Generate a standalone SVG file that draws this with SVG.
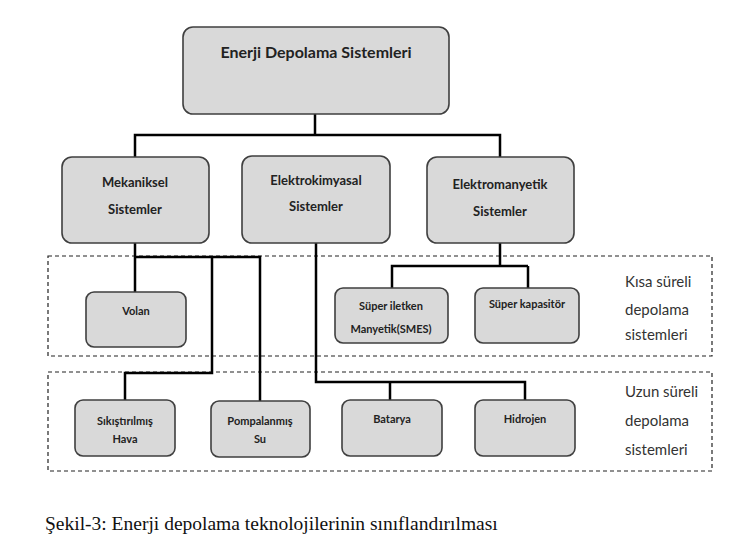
<svg xmlns="http://www.w3.org/2000/svg" width="750" height="558" viewBox="0 0 750 558">
<style>
.box{fill:#d9d9d9;stroke:#3f3f3f;stroke-width:1.6}
.lbl{font-family:Lato,"Liberation Sans",sans-serif;font-weight:bold;fill:#222;text-anchor:middle}
.side{font-family:Lato,"Liberation Sans",sans-serif;font-size:15px;fill:#333}
.con{fill:none;stroke:#000;stroke-width:2.5}
.dash{fill:none;stroke:#222;stroke-width:1.2;stroke-dasharray:4 3}
</style>
<rect width="750" height="558" fill="#fff"/>
<g id="zones">
<rect class="dash" x="48" y="256" width="664" height="100"/>
<rect class="dash" x="48" y="372" width="664" height="99"/>
</g>
<g id="connectors">
<path class="con" d="M315,114 V135 M135,157 V135 H500 V157"/>
<path class="con" d="M135,243 V292 M135,257 H260 V401 M212,258 V373 H125 V400"/>
<path class="con" d="M316,243 V382 H525 V400 M390,382 V400"/>
<path class="con" d="M500,243 V266 H392 V288 M528,266 V288 M500,266 H528"/>
</g>
<g id="root"><rect class="box" x="183" y="27" width="266" height="87" rx="10"/><text class="lbl" x="316" y="58" font-size="16">Enerji Depolama Sistemleri</text></g>
<g id="mekaniksel"><rect class="box" x="62" y="157" width="147" height="86" rx="10"/><text class="lbl" x="135" y="187" font-size="13">Mekaniksel</text><text class="lbl" x="135" y="214" font-size="13">Sistemler</text></g>
<g id="elektrokimyasal"><rect class="box" x="242" y="156" width="148" height="87" rx="10"/><text class="lbl" x="316" y="185" font-size="13">Elektrokimyasal</text><text class="lbl" x="316" y="211" font-size="13">Sistemler</text></g>
<g id="elektromanyetik"><rect class="box" x="427" y="157" width="147" height="86" rx="10"/><text class="lbl" x="500" y="189" font-size="13">Elektromanyetik</text><text class="lbl" x="500" y="216" font-size="13">Sistemler</text></g>
<g id="volan"><rect class="box" x="86" y="292" width="100" height="55" rx="8"/><text class="lbl" x="136" y="315" font-size="11">Volan</text></g>
<g id="smes"><rect class="box" x="335" y="288" width="113" height="55" rx="8"/><text class="lbl" x="391" y="310" font-size="11">Süper iletken</text><text class="lbl" x="391" y="333" font-size="11">Manyetik(SMES)</text></g>
<g id="kapasitor"><rect class="box" x="475" y="288" width="104" height="55" rx="8"/><text class="lbl" x="527" y="308" font-size="11">Süper kapasitör</text></g>
<g id="hava"><rect class="box" x="75" y="400" width="100" height="56" rx="8"/><text class="lbl" x="125" y="425" font-size="11">Sıkıştırılmış</text><text class="lbl" x="125" y="443" font-size="11">Hava</text></g>
<g id="su"><rect class="box" x="211" y="401" width="99" height="56" rx="8"/><text class="lbl" x="260" y="425" font-size="11">Pompalanmış</text><text class="lbl" x="260" y="443" font-size="11">Su</text></g>
<g id="batarya"><rect class="box" x="342" y="400" width="100" height="56" rx="8"/><text class="lbl" x="392" y="423" font-size="11">Batarya</text></g>
<g id="hidrojen"><rect class="box" x="475" y="400" width="100" height="56" rx="8"/><text class="lbl" x="525" y="423" font-size="11">Hidrojen</text></g>
<g id="labels">
<text class="side" x="625" y="287">Kısa süreli</text>
<text class="side" x="625" y="315">depolama</text>
<text class="side" x="625" y="340">sistemleri</text>
<text class="side" x="625" y="397">Uzun süreli</text>
<text class="side" x="625" y="426">depolama</text>
<text class="side" x="625" y="455">sistemleri</text>
</g>
<text x="45" y="530" font-family="'Liberation Serif',serif" font-size="19.5" fill="#111">Şekil-3: Enerji depolama teknolojilerinin sınıflandırılması</text>
</svg>
